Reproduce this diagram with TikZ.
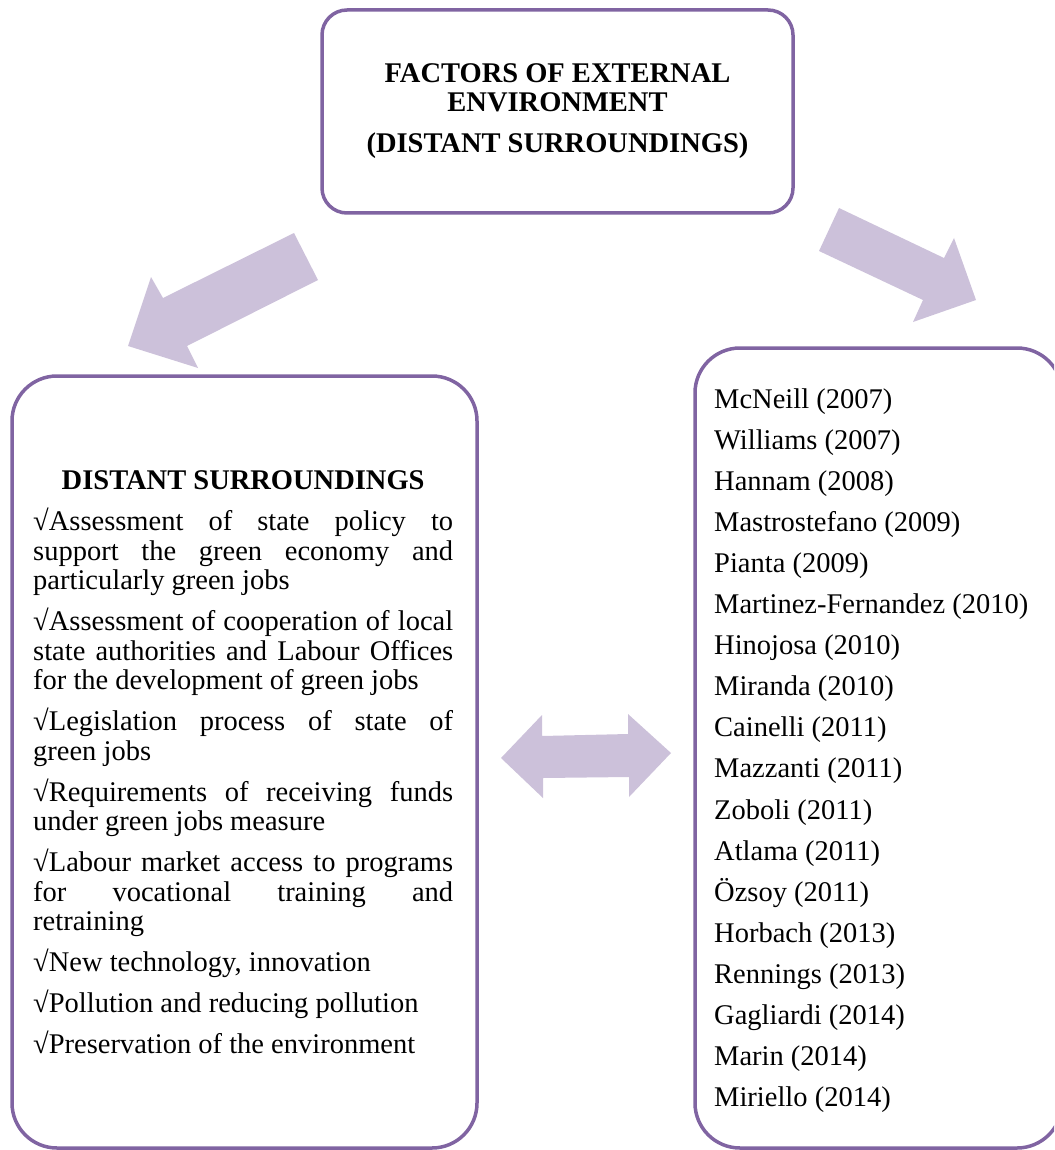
\documentclass[tikz,border=0pt]{standalone}
\usepackage{fontspec}
\setmainfont{Liberation Serif}
\usepackage{tikz}
\usetikzlibrary{positioning}
\definecolor{boxpurple}{HTML}{8064A2}
\definecolor{arwlilac}{HTML}{CCC1DA}
\tikzset{
frame_box/.style = {draw=boxpurple, line width=3.5pt, rounded corners=#1, inner sep=0pt},% purple frame
big_arw/.style = {fill=arwlilac, draw=none},% block arrow
txt/.style = {inner sep=0pt, font=\fontsize{28.5}{29.5}\selectfont},% plain text
}

\begin{document}
\begin{tikzpicture}[x=1pt, y=-1pt]
	\useasboundingbox (0,0) rectangle (1054,1150);
	\clip (0,0) rectangle (1054,1150);
	% boxes
	\node [frame_box=25pt, minimum width=471pt, minimum height=203pt, align=center,
	  font=\bfseries\fontsize{28.5}{29}\selectfont] (factors) at (557.5,111.5)
	  {FACTORS OF EXTERNAL\\ENVIRONMENT\\[12pt](DISTANT SURROUNDINGS)};
	\node [frame_box=45pt, minimum width=465pt, minimum height=772pt] (surr) at (244.5,762) {};
	\node [frame_box=45pt, minimum width=367pt, minimum height=800pt] (refs) at (878.5,748) {};
	% left text
	\node [txt, text width=420pt, align=justify, anchor=north west] (surrtext) at (33,470.5) {%
	  \setlength{\parindent}{0pt}\setlength{\parskip}{11.5pt}\hyphenpenalty=10000
	  \everypar{}\leftskip=0pt\rightskip=0pt\parfillskip=0pt plus 1fil
	  \hbox to 420pt{\hfil\bfseries DISTANT SURROUNDINGS\hfil}\par
	  √Assessment of state policy to\linebreak support the green economy and\linebreak particularly green jobs\par
	  √Assessment of cooperation of local\linebreak state authorities and Labour Offices\linebreak for the development of green jobs\par
	  √Legislation process of state of\linebreak green jobs\par
	  √Requirements of receiving funds\linebreak under green jobs measure\par
	  √Labour market access to programs\linebreak for vocational training and\linebreak retraining\par
	  √New technology, innovation\par
	  √Pollution and reducing pollution\par
	  √Preservation of the environment\par};
	% right list
	\foreach \name [count=\i from 0] in {McNeill (2007), Williams (2007), Hannam (2008),
	  Mastrostefano (2009), Pianta (2009), Martinez-Fernandez (2010), Hinojosa (2010),
	  Miranda (2010), Cainelli (2011), Mazzanti (2011), Zoboli (2011), Atlama (2011),
	  Özsoy (2011), Horbach (2013), Rennings (2013), Gagliardi (2014), Marin (2014),
	  Miriello (2014)}
	  \node [txt, anchor=base west] (ref\i) at (714,408+41.1*\i) {\name};
	% arrows
	\fill [big_arw] (294,233) -- (318,280) -- (187,346) -- (198,368) -- (128,346)
	  -- (151,277) -- (163,298) -- cycle;
	\fill [big_arw] (839,208) -- (944,258) -- (954,238) -- (976,300) -- (913,322)
	  -- (923,300) -- (819,251) -- cycle;
	\fill [big_arw] (501,758) -- (542,715) -- (542,736) -- (628,734) -- (628,714)
	  -- (671,753) -- (629,797) -- (629,777) -- (543,778) -- (543,798) -- cycle;
\end{tikzpicture}
\end{document}
